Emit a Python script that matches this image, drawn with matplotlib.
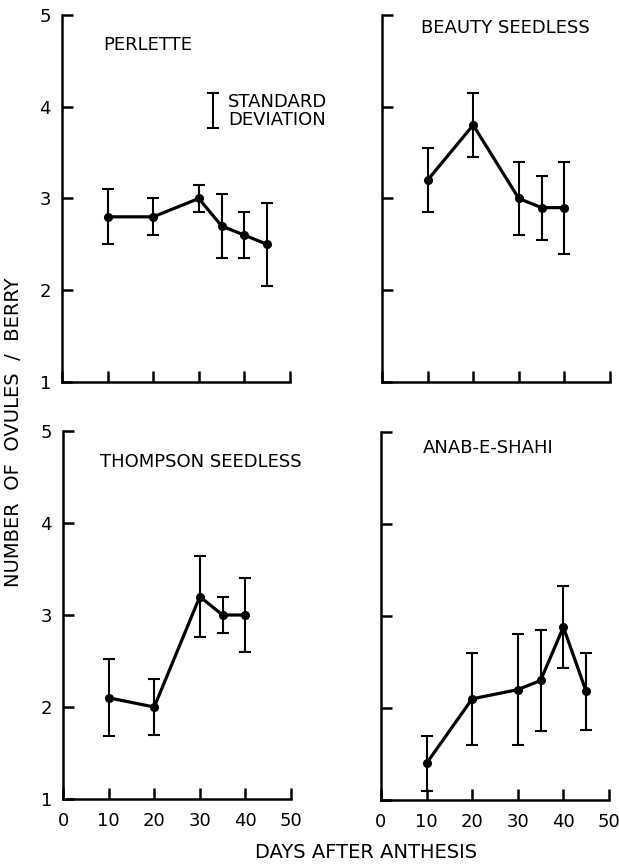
import matplotlib
matplotlib.use("Agg")
import matplotlib.pyplot as plt

plt.rcParams['font.family'] = ['DejaVu Sans']

# days after anthesis and mean ovule counts (+/- SD) for each cultivar
perlette_days = [10, 20, 30, 35, 40, 45]
perlette_mean = [2.8, 2.8, 3.0, 2.7, 2.6, 2.5]
perlette_sd = [0.3, 0.2, 0.15, 0.35, 0.25, 0.45]

beauty_days = [10, 20, 30, 35, 40]
beauty_mean = [3.2, 3.8, 3.0, 2.9, 2.9]
beauty_sd = [0.35, 0.35, 0.4, 0.35, 0.5]

thompson_days = [10, 20, 30, 35, 40]
thompson_mean = [2.1, 2.0, 3.2, 3.0, 3.0]
thompson_sd = [0.42, 0.3, 0.44, 0.2, 0.4]

anab_days = [10, 20, 30, 35, 40, 45]
anab_mean = [1.4, 2.1, 2.2, 2.3, 2.88, 2.18]
anab_sd = [0.3, 0.5, 0.6, 0.55, 0.45, 0.42]

x_ticks = [0, 10, 20, 30, 40, 50]
y_ticks = [1, 2, 3, 4, 5]

FS = 13

fig = plt.figure(figsize=(6.19, 8.65), dpi=100)

# left, bottom, width, height for each panel
panels = [
    ("PERLETTE", perlette_days, perlette_mean, perlette_sd,
     [0.1002, 0.5584, 0.3683, 0.4243], True, False, (0.18, 0.918)),
    ("BEAUTY SEEDLESS", beauty_days, beauty_mean, beauty_sd,
     [0.6171, 0.5584, 0.3683, 0.4243], False, False, (0.171, 0.965)),
    ("THOMPSON SEEDLESS", thompson_days, thompson_mean, thompson_sd,
     [0.1018, 0.0763, 0.3683, 0.4254], True, True, (0.162, 0.916)),
    ("ANAB-E-SHAHI", anab_days, anab_mean, anab_sd,
     [0.6155, 0.0751, 0.3683, 0.4254], False, True, (0.184, 0.957)),
]

axes = []
for name, days, mean, sd, rect, ylab, xlab, tpos in panels:
    ax = fig.add_axes(rect)
    ax.errorbar(days, mean, yerr=sd, fmt='-o', color='black', lw=2.3,
                ms=5.5, elinewidth=1.5, capsize=4, capthick=1.5, clip_on=False)
    ax.set_xlim(0, 50)
    ax.set_ylim(1, 5)
    ax.spines['top'].set_visible(False)
    ax.spines['right'].set_visible(False)
    ax.spines['left'].set_linewidth(1.8)
    ax.spines['bottom'].set_linewidth(1.8)
    ax.set_xticks(x_ticks)
    ax.set_yticks(y_ticks)
    ax.tick_params(direction='in', length=8, width=1.8, labelsize=FS)
    ax.tick_params(axis='y', pad=8)
    ax.tick_params(axis='x', pad=9)
    if not ylab:
        ax.set_yticklabels([])
    if not xlab:
        ax.set_xticklabels([])
    ax.text(tpos[0], tpos[1], name, transform=ax.transAxes, ha='left',
            va='center', fontsize=FS)
    ax.patch.set_alpha(0)
    axes.append(ax)

# standard deviation key in the first panel
ax0 = axes[0]
ax0.errorbar([33.1], [3.96], yerr=[0.19], fmt='none', ecolor='black',
             elinewidth=1.5, capsize=4, capthick=1.5)
ax0.text(36.4, 3.95, "STANDARD\nDEVIATION", ha='left', va='center',
         fontsize=FS, linespacing=1.0)

fig.text(14 / 619, 1 - 432 / 865, "NUMBER  OF  OVULES  /  BERRY", rotation=90,
         ha='center', va='center', fontsize=14)
fig.text(366 / 619, 1 - 853 / 865, "DAYS AFTER ANTHESIS", ha='center',
         va='center', fontsize=14)

fig.savefig("out.png", dpi=100)
